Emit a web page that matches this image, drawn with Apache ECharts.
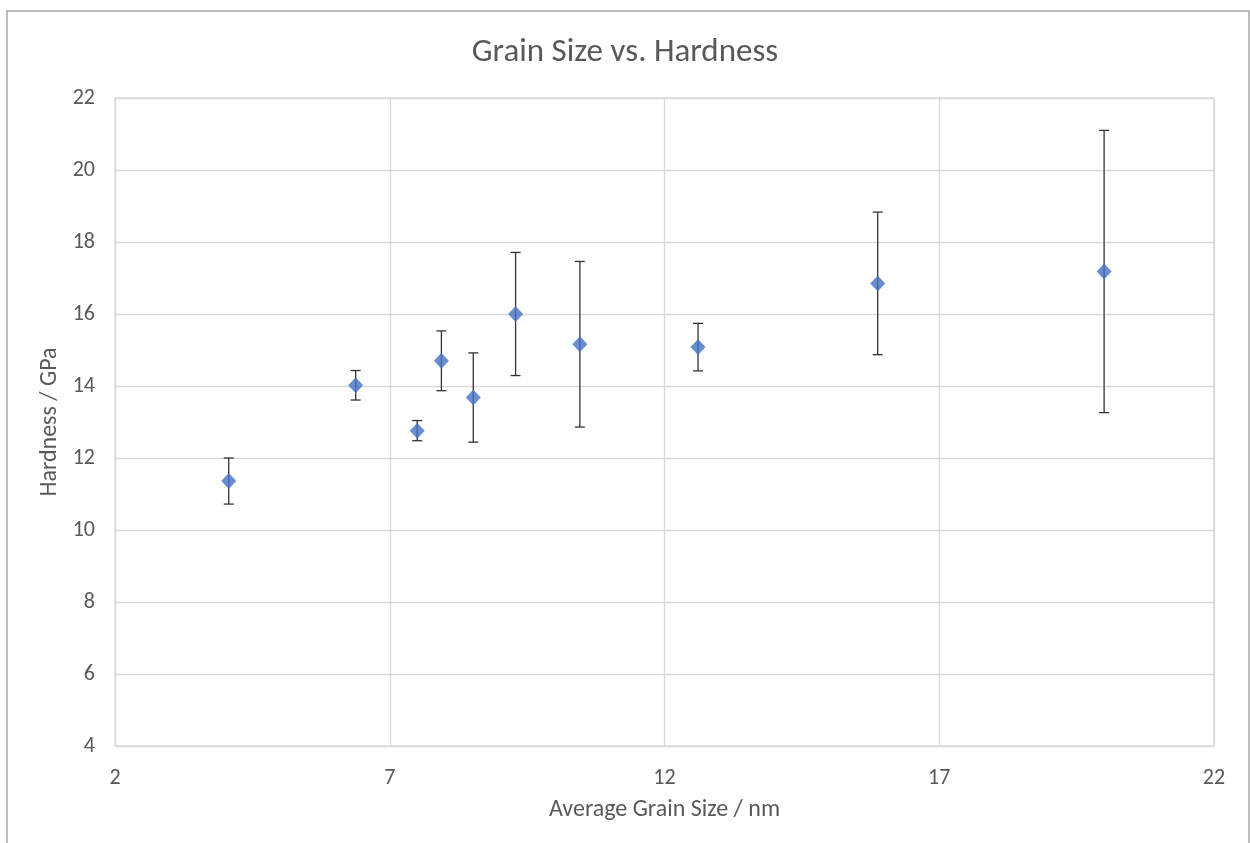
<!DOCTYPE html>
<html>
<head>
<meta charset="utf-8">
<title>Grain Size vs. Hardness</title>
<script src="https://cdn.jsdelivr.net/npm/echarts@6/dist/echarts.min.js"></script>
<style>
  html, body { margin: 0; padding: 0; background: #ffffff; }
  #chart { width: 1250px; height: 843px; }
</style>
</head>
<body>
<div id="chart"></div>
<script>
// Average grain size (nm), mean hardness (GPa) and the ± error of each measurement
const grainSize = [4.07, 6.38, 7.50, 7.94, 8.52, 9.29, 10.46, 12.61, 15.88, 20.00];
const hardness  = [11.36, 14.02, 12.76, 14.70, 13.68, 16.00, 15.16, 15.08, 16.85, 17.18];
const hardErr   = [0.64, 0.41, 0.28, 0.83, 1.24, 1.71, 2.30, 0.66, 1.98, 3.92];

const xTicks = [2, 7, 12, 17, 22];
const yTicks = [4, 6, 8, 10, 12, 14, 16, 18, 20, 22];

const textFont = 'Carlito, "Liberation Sans Narrow", "DejaVu Sans Condensed", sans-serif';

const points = grainSize.map((x, i) => [x, hardness[i]]);
const bars = grainSize.map((x, i) => [x, hardness[i] - hardErr[i], hardness[i] + hardErr[i]]);

const chart = echarts.init(document.getElementById('chart'), null, { renderer: 'canvas' });

chart.setOption({
  backgroundColor: '#ffffff',
  animation: false,
  title: {
    text: 'Grain Size vs. Hardness',
    left: 'center',
    top: 31,
    textStyle: { fontFamily: textFont, fontSize: 33, fontWeight: 'normal', color: '#595959' }
  },
  graphic: [
    {
      type: 'polyline',
      silent: true,
      shape: { points: [[7, 843], [7, 11], [1249, 11], [1249, 843]] },
      style: { stroke: '#a6a6a6', lineWidth: 1.5, fill: null }
    }
  ],
  grid: { left: 115, right: 36, top: 98, bottom: 97, show: true, borderColor: '#c8c8c8', borderWidth: 1 },
  xAxis: {
    type: 'value',
    min: xTicks[0],
    max: xTicks[xTicks.length - 1],
    interval: 5,
    name: 'Average Grain Size / nm',
    nameLocation: 'middle',
    nameGap: 52,
    nameTextStyle: { fontFamily: textFont, fontSize: 24, color: '#595959' },
    axisLine: { show: false },
    axisTick: { show: false },
    axisLabel: { fontFamily: textFont, fontSize: 22, color: '#595959', margin: 21 },
    splitLine: { show: true, lineStyle: { color: '#d9d9d9', width: 1.3 } }
  },
  yAxis: {
    type: 'value',
    min: yTicks[0],
    max: yTicks[yTicks.length - 1],
    interval: 2,
    name: 'Hardness / GPa',
    nameLocation: 'middle',
    nameGap: 42,
    nameTextStyle: { fontFamily: textFont, fontSize: 24, color: '#595959' },
    axisLine: { show: false },
    axisTick: { show: false },
    axisLabel: { fontFamily: textFont, fontSize: 22, color: '#595959', margin: 20 },
    splitLine: { show: true, lineStyle: { color: '#d9d9d9', width: 1.3 } }
  },
  series: [
    {
      type: 'custom',
      name: 'error',
      data: bars,
      z: 2,
      renderItem: function (params, api) {
        const x = api.value(0);
        const lo = api.coord([x, api.value(1)]);
        const hi = api.coord([x, api.value(2)]);
        const cap = 5;
        const style = { stroke: '#333333', lineWidth: 1.3 };
        return {
          type: 'group',
          children: [
            { type: 'line', shape: { x1: lo[0], y1: lo[1], x2: hi[0], y2: hi[1] }, style: style },
            { type: 'line', shape: { x1: hi[0] - cap, y1: hi[1], x2: hi[0] + cap, y2: hi[1] }, style: style },
            { type: 'line', shape: { x1: lo[0] - cap, y1: lo[1], x2: lo[0] + cap, y2: lo[1] }, style: style }
          ]
        };
      }
    },
    {
      type: 'scatter',
      name: 'Hardness',
      data: points,
      symbol: 'diamond',
      symbolSize: [15, 16],
      z: 3,
      itemStyle: { color: '#4472c4' }
    }
  ]
});
</script>
</body>
</html>
